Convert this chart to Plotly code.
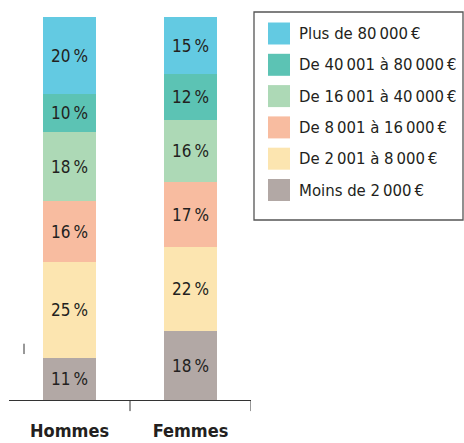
import plotly.graph_objects as go

categories = ["Hommes", "Femmes"]
tranches = [
    "Moins de 2\u2009000\u2009€",
    "De 2\u2009001 à 8\u2009000\u2009€",
    "De 8\u2009001 à 16\u2009000\u2009€",
    "De 16\u2009001 à 40\u2009000\u2009€",
    "De 40\u2009001 à 80\u2009000\u2009€",
    "Plus de 80\u2009000\u2009€",
]
hommes = [11, 25, 16, 18, 10, 20]
femmes = [18, 22, 17, 16, 12, 15]
colors = ["#B2A8A5", "#FCE5B0", "#F8BCA0", "#ADD9B6", "#5CC3B4", "#63CAE2"]

FONT = "DejaVu Sans Condensed, Liberation Sans Narrow, sans-serif"
TXT = "#231F20"

fig = go.Figure()
for i, name in enumerate(tranches):
    vals = [hommes[i], femmes[i]]
    fig.add_trace(go.Bar(
        x=categories, y=vals, name=name,
        marker=dict(color=colors[i], line=dict(width=0)),
        width=0.446,
        text=[f"{v}\u2009%" for v in vals],
        textposition="inside", insidetextanchor="middle",
        textfont=dict(family=FONT, size=17, color=TXT),
        showlegend=False, hoverinfo="skip",
    ))

# tick marks at category boundaries
for xb in [0.5, 1.5]:
    fig.add_shape(type="line", xref="x", yref="paper", x0=xb, x1=xb, y0=0, y1=-0.029,
                  line=dict(color="#333333", width=1))
# stray small mark left of the chart
fig.add_shape(type="line", xref="paper", yref="y", x0=0.062, x1=0.062, y0=12.0, y1=14.7,
              line=dict(color="#333333", width=1))

# custom legend (box + swatches + labels), top item first
L0, L1, T0, T1 = 254, 463, 12, 220
legend_order = list(range(len(tranches)))[::-1]
for k, i in enumerate(legend_order):
    cy = 33.5 + k * 31.3
    fig.add_shape(type="rect", xref="x domain", yref="y domain",
                  x0=(268 - 9) / 242, x1=(290 - 9) / 242,
                  y0=(400 - (cy + 11)) / 383, y1=(400 - (cy - 11)) / 383,
                  fillcolor=colors[i], line=dict(width=0))
    fig.add_annotation(xref="x domain", yref="y domain",
                       x=(297 - 9) / 242, y=(400 - cy) / 383,
                       text=tranches[i], showarrow=False, xanchor="left", yanchor="middle",
                       font=dict(family=FONT, size=16.6, color=TXT))
fig.add_shape(type="rect", xref="x domain", yref="y domain",
              x0=(L0 - 9) / 242, x1=(L1 - 9) / 242,
              y0=(400 - T1) / 383, y1=(400 - T0) / 383,
              line=dict(color="#555555", width=1.3), fillcolor="rgba(0,0,0,0)")

fig.update_layout(
    width=464, height=443,
    barmode="stack", bargap=0,
    margin=dict(l=9, r=213, t=17, b=43, autoexpand=False),
    paper_bgcolor="white", plot_bgcolor="white",
    font=dict(family=FONT, color=TXT),
    xaxis=dict(range=[-0.5, 1.5], showline=True, linecolor="#333333", linewidth=1,
               ticks="", showgrid=False, zeroline=False, automargin=False,
               tickfont=dict(family=FONT, size=18, color=TXT, weight="bold"),
               ticklabelstandoff=14),
    yaxis=dict(range=[0, 100], visible=False, showgrid=False, zeroline=False, automargin=False),
    uniformtext=dict(minsize=10, mode="show"),
)

fig.write_html("out.html", config={"displayModeBar": False},
               post_script="document.body.style.margin='0';document.body.style.overflow='hidden';")
